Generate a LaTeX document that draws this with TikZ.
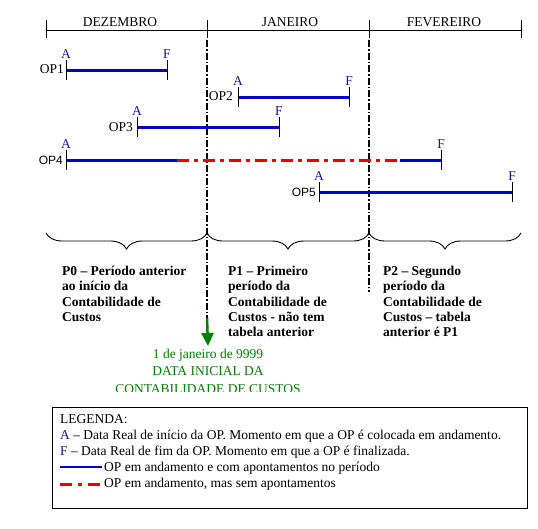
\documentclass[tikz,border=0pt]{standalone}
\usepackage{fontspec}
\setmainfont{Liberation Serif}
\newfontfamily\arialf{Liberation Sans}
\newfontfamily\timesf{Liberation Serif}
\usetikzlibrary{decorations.pathreplacing,arrows.meta}
\definecolor{opblue}{RGB}{0,0,210}
\definecolor{opred}{RGB}{235,0,0}
\definecolor{lblblue}{RGB}{20,20,170}
\definecolor{dgreen}{RGB}{0,128,0}
\tikzset{
  tl/.style={line width=0.9pt,black},
  tick/.style={line width=0.9pt,black},
  active/.style={line width=3pt,opblue},
  idle/.style={line width=3pt,opred,dash pattern=on 12pt off 5pt on 4pt off 5pt},
  divider/.style={line width=2pt,black,dash pattern=on 7pt off 2pt on 1.5pt off 2pt},
  month/.style={font=\timesf\fontsize{13.5}{15}\selectfont,anchor=base},
  oplbl/.style={font=\timesf\fontsize{13.5}{15}\selectfont,anchor=base east,inner sep=0pt},
  oplbls/.style={font=\arialf\fontsize{12}{14}\selectfont,anchor=base east,inner sep=0pt},
  af/.style={font=\timesf\fontsize{13.5}{14}\selectfont,text=lblblue,anchor=base,inner sep=0pt},
  ptext/.style={font=\timesf\bfseries\fontsize{13.5}{15.3}\selectfont,align=left,anchor=north west,inner sep=0pt},
  gtext/.style={font=\timesf\fontsize{13.5}{16.5}\selectfont,text=dgreen,anchor=base,inner sep=0pt},
  legtext/.style={font=\timesf\fontsize{13.5}{16}\selectfont,anchor=base west,inner sep=0pt},
  bracestyle/.style={line width=0.9pt,decorate,decoration={brace,amplitude=16pt,mirror}},
}
\begin{document}
\begin{tikzpicture}[x=1pt,y=-1pt]
\useasboundingbox (0,0) rectangle (538,528);
\fill[white] (0,0) rectangle (538,528);
% timeline
\coordinate (t0) at (46,30);
\coordinate (t1) at (207,30);
\coordinate (t2) at (369,30);
\coordinate (t3) at (521,30);
\draw[tl] (t0) -- (t3);
\foreach \c in {t0,t1,t2,t3}{\draw[tick] ([yshift=10pt]\c) -- ([yshift=-8pt]\c);}
\node[month] (mdez) at (120,26) {DEZEMBRO};
\node[month] (mjan) at (290,26) {JANEIRO};
\node[month] (mfev) at (444,26) {FEVEREIRO};
% dividers
\coordinate (d1top) at (207,40);
\coordinate (d1bot) at (207,318);
\coordinate (d2top) at (369,40);
\coordinate (d2bot) at (369,292);
\draw[divider] (d1top) -- (d1bot);
\draw[divider] (d2top) -- (d2bot);
\coordinate (gend) at (208,346);
\draw[dgreen,line width=2.5pt,-{Triangle[width=12pt,length=13pt]}] (d1bot) -- (gend);
% OP rows
\foreach \nm/\y/\a/\f in {OP1/70/66/167, OP2/97/238/349, OP3/127/137/279, OP5/192/319/512}{
  \coordinate (\nm a) at (\a,\y);
  \coordinate (\nm f) at (\f,\y);
  \draw[active] (\nm a) -- (\nm f);
  \draw[tick] ([yshift=-10pt]\nm a) -- ([yshift=10pt]\nm a);
  \draw[tick] ([yshift=-10pt]\nm f) -- ([yshift=10pt]\nm f);
  \node[af] (\nm A) at ([yshift=12pt]\nm a) {A};
  \node[af] (\nm F) at ([yshift=12pt]\nm f) {F};
}
\node[oplbl] (OP1L) at ([xshift=-2pt,yshift=-3.5pt]OP1a) {OP1};
\node[oplbl] (OP2L) at ([xshift=-5pt,yshift=-3.5pt]OP2a) {OP2};
\node[oplbl] (OP3L) at ([xshift=-4pt,yshift=-4pt]OP3a) {OP3};
\node[oplbls] (OP5L) at ([xshift=-3pt,yshift=-4pt]OP5a) {OP5};
% OP4
\coordinate (OP4a) at (66,160);
\coordinate (OP4m1) at (177,160);
\coordinate (OP4m2) at (400,160);
\coordinate (OP4f) at (441,160);
\draw[active] (OP4a) -- (OP4m1);
\draw[idle] (OP4m1) -- (OP4m2);
\draw[active] (OP4m2) -- (OP4f);
\draw[tick] ([yshift=-10pt]OP4a) -- ([yshift=10pt]OP4a);
\draw[tick] ([yshift=-10pt]OP4f) -- ([yshift=10pt]OP4f);
\node[af] (OP4A) at ([yshift=12pt]OP4a) {A};
\node[af] (OP4F) at ([yshift=12pt]OP4f) {F};
\node[oplbls] (OP4L) at ([xshift=-3pt,yshift=-4pt]OP4a) {OP4};
% braces
\coordinate (b0) at (46,233);
\coordinate (b1) at (207,233);
\coordinate (b2) at (369,233);
\coordinate (b3) at (521,233);
\draw[bracestyle] (b0) -- (b1);
\draw[bracestyle] (b1) -- (b2);
\draw[bracestyle] (b2) -- (b3);
% period texts
\node[ptext] (p0) at (62,266) {P0 – Período anterior\\ao início da\\Contabilidade de\\Custos};
\node[ptext] (p1) at (228,266) {P1 – Primeiro\\período da\\Contabilidade de\\Custos - não tem\\tabela anterior};
\node[ptext] (p2) at (383,266) {P2 – Segundo\\período da\\Contabilidade de\\Custos – tabela\\anterior é P1};
% green text (clipped)
\begin{scope}
\clip (90,340) rectangle (330,391);
\node[gtext] (g1) at (208,358) {1 de janeiro de 9999};
\node[gtext] (g2) at (208,375) {DATA INICIAL DA};
\node[gtext] (g3) at (208,393) {CONTABILIDADE DE CUSTOS};
\end{scope}
% legend
\node[draw=black,line width=0.9pt,minimum width=475pt,minimum height=101pt,anchor=north west,inner sep=0pt] (leg) at (52,407) {};
\node[legtext] (l1) at (60,423) {LEGENDA:};
\node[legtext] (l2) at (60,439) {\textcolor{lblblue}{A} – Data Real de início da OP. Momento em que a OP é colocada em andamento.};
\node[legtext] (l3) at (60,455) {\textcolor{lblblue}{F} – Data Real de fim da OP. Momento em que a OP é finalizada.};
\coordinate (lb1) at (60,467);
\coordinate (lb2) at (102,467);
\draw[line width=2.5pt,opblue] (lb1) -- (lb2);
\node[legtext] (l4) at (104,471) {OP em andamento e com apontamentos no período};
\coordinate (lr1) at (60,484);
\coordinate (lr2) at (102,484);
\draw[line width=3pt,opred,dash pattern=on 12pt off 6pt on 4pt off 6pt] (lr1) -- (lr2);
\node[legtext] (l5) at (104,487) {OP em andamento, mas sem apontamentos};
\end{tikzpicture}
\end{document}
